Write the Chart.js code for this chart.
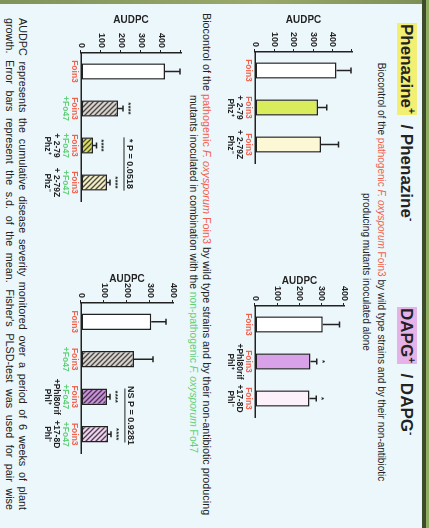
<!DOCTYPE html>
<html>
<head>
<meta charset="utf-8">
<script src="https://cdn.jsdelivr.net/npm/chart.js@4.4.0/dist/chart.umd.min.js"></script>
<style>
  html, body { margin: 0; padding: 0; width: 429px; height: 528px; overflow: hidden; background: #ecf7fb; }
  /* the slide is laid out landscape and turned a quarter clockwise */
  #slide { position: absolute; left: 0; top: 0; width: 528px; height: 429px; overflow: hidden;
           transform-origin: 0 0; transform: translate(429px, 0) rotate(90deg);
           background: #ecf7fb; font-family: "Liberation Sans", Arial, sans-serif; color: #222; }
  #edgeL { position: absolute; left: 0; top: 0; width: 4px; height: 429px; background: linear-gradient(#7d8f55, #9aa86a 40%, #7f935a); }
  #edgeT { position: absolute; left: 0; top: 0; width: 528px; height: 7px; background: linear-gradient(#8fae62 0, #8fae62 3px, #3f4c2c 3px, #3f4c2c 7px); }
  .title { position: absolute; font-size: 17px; font-weight: bold; line-height: 20px; white-space: nowrap; }
  .title sup { font-size: 10px; line-height: 0; }
  .hl { padding: 1px 1px 0 1px; }
  .txt { position: absolute; font-size: 10px; white-space: nowrap; }
  .r { color: #f2604c; }
  .g { color: #62d07a; }
  .just { text-align: justify; text-align-last: justify; }
  canvas { position: absolute; }
</style>
</head>
<body>
<div id="slide">
  <div id="edgeL"></div>
  <div id="edgeT"></div>

  <div class="title" style="left:23px; top:13px;"><span class="hl" style="background:#f3ef72;">Phenazine<sup>+</sup></span>&nbsp; / Phenazine<sup>-</sup></div>
  <div class="title" style="left:307px; top:13px;"><span class="hl" style="background:#e6b2ea;">DAPG<sup>+</sup></span>&nbsp; / DAPG<sup>-</sup></div>

  <div class="txt" style="left:8px; top:40px; width:528px; text-align:center; line-height:15px;">Biocontrol of the <span class="r">pathogenic <i>F. oxysporum</i> Foin3</span> by wild type strains and by their non-antibiotic<br>producing mutants inoculated alone</div>

  <div class="txt" style="left:13px; top:215px; line-height:14px; font-size:10.8px;">Biocontrol of the <span class="r">pathogenic <i>F. oxysporum</i> Foin3</span> by wild type strains and by their non-antibiotic producing</div>
  <div class="txt" style="left:10px; top:229px; width:528px; text-align:center; line-height:14px; font-size:10.3px;">mutants inoculated in combination with the <span class="g">non-pathogenic <i>F. oxysporum</i> Fo47</span></div>

  <div class="txt just" style="left:18px; top:400px; width:492px; line-height:13px; font-size:10.8px;">AUDPC represents the cumulative disease severity monitored over a period of 6 weeks of plant</div>
  <div class="txt just" style="left:18px; top:413px; width:492px; line-height:13px; font-size:10.8px;">growth. Error bars represent the s.d. of the mean. Fisher's PLSD-test was used for pair wise</div>

  <canvas id="phzSingle" width="170" height="172" style="left:6px; top:60px;"></canvas>
  <canvas id="dapgSingle" width="170" height="164" style="left:260px; top:68px;"></canvas>
  <canvas id="phzCombo" width="200" height="175" style="left:7px; top:231px;"></canvas>
  <canvas id="dapgCombo" width="205" height="167" style="left:257px; top:239px;"></canvas>
</div>

<script>
// ---- data ----
const phzSingleCats = [['Foin3'], ['Foin3', '+ 2-79', 'Phz⁺'], ['Foin3', '+ 2-79Z', 'Phz⁻']];
const phzSingleMeans = [420, 325, 340];
const phzSingleSd = [75, 45, 90];
const phzSingleSig = ['', '', ''];

const dapgSingleCats = [['Foin3'], ['Foin3', '+Phl80rif', 'Phl⁺'], ['Foin3', '+17-8D', 'Phl⁻']];
const dapgSingleMeans = [305, 250, 245];
const dapgSingleSd = [75, 28, 30];
const dapgSingleSig = ['', '*', '*'];

const phzComboCats = [['Foin3'], ['Foin3', '+Fo47'], ['Foin3', '+Fo47', '+ 2-79', 'Phz⁺'], ['Foin3', '+Fo47', '+ 2-79Z', 'Phz⁻']];
const phzComboMeans = [420, 185, 60, 130];
const phzComboSd = [75, 25, 18, 15];
const phzComboSig = ['', '****', '****', '****'];
const phzComboNote = '* P = 0.0518';

const dapgComboCats = [['Foin3'], ['Foin3', '+Fo47'], ['Foin3', '+Fo47', '+Phl80rif', 'Phl⁺'], ['Foin3', '+Fo47', '+17-8D', 'Phl⁻']];
const dapgComboMeans = [305, 230, 113, 117];
const dapgComboSd = [65, 83, 13, 13];
const dapgComboSig = ['', '', '****', '****'];
const dapgComboNote = 'NS P = 0.9281';

const audpcTicks = [0, 100, 200, 300, 400];

// diagonal hatch fill for the combination bars
function hatch(bg, fg) {
  const c = document.createElement('canvas');
  c.width = 5; c.height = 5;
  const x = c.getContext('2d');
  x.fillStyle = bg;
  x.fillRect(0, 0, 5, 5);
  x.strokeStyle = fg;
  x.lineWidth = 1.3;
  x.beginPath();
  x.moveTo(-1, -1); x.lineTo(6, 6);
  x.moveTo(-1, 4); x.lineTo(1, 6);
  x.moveTo(4, -1); x.lineTo(6, 1);
  x.stroke();
  return x.createPattern(c, 'repeat');
}

// error bars, stars, coloured category labels and the P note
const barExtras = {
  id: 'barExtras',
  afterDraw(chart, args, opts) {
    const ctx = chart.ctx;
    const ys = chart.scales.y;
    const xs = chart.scales.x;
    const bars = chart.getDatasetMeta(0).data;
    ctx.save();
    ctx.strokeStyle = '#222';
    ctx.fillStyle = '#222';
    ctx.lineWidth = 1.5;
    const tops = [];
    bars.forEach((bar, i) => {
      const top = ys.getPixelForValue(opts.means[i] + opts.sd[i]);
      tops.push(top);
      ctx.beginPath();
      ctx.moveTo(bar.x, bar.y);
      ctx.lineTo(bar.x, top);
      ctx.moveTo(bar.x - 3, top);
      ctx.lineTo(bar.x + 3, top);
      ctx.stroke();
      if (opts.sig[i]) {
        ctx.font = 'bold 8px "Liberation Sans", Arial';
        ctx.textAlign = 'center';
        ctx.textBaseline = 'bottom';
        ctx.fillText(opts.sig[i], bar.x, top - 1);
      }
    });

    // category labels, one colour per line
    ctx.font = 'bold 8.5px "Liberation Sans", Arial';
    ctx.textAlign = 'center';
    ctx.textBaseline = 'top';
    opts.cats.forEach((lines, i) => {
      const x = xs.getPixelForValue(i);
      lines.forEach((t, k) => {
        ctx.fillStyle = k === 0 ? '#f2604c' : (t.indexOf('Fo47') >= 0 ? '#62d07a' : '#222');
        ctx.fillText(t, x, chart.chartArea.bottom + 2 + k * 9);
      });
    });

    if (opts.note) {
      const a = bars[2], b = bars[3];
      const lineY = Math.min(tops[2], tops[3]) - 14;
      ctx.strokeStyle = '#222';
      ctx.lineWidth = 1;
      ctx.beginPath();
      ctx.moveTo(a.x - a.width / 2, lineY);
      ctx.lineTo(b.x + b.width / 2, lineY);
      ctx.stroke();
      ctx.fillStyle = '#222';
      ctx.font = 'bold 9px "Liberation Sans", Arial';
      ctx.textBaseline = 'bottom';
      ctx.fillText(opts.note, (a.x + b.x) / 2, lineY - 1);
    }
    ctx.restore();
  }
};

function makeChart(id, cats, means, sd, sig, note, fills, yMax, pad, titlePad) {
  return new Chart(document.getElementById(id), {
    type: 'bar',
    data: {
      labels: cats.map(c => c.join(' ')),
      datasets: [{
        data: means,
        backgroundColor: fills,
        borderColor: '#222',
        borderWidth: 1.5,
        borderSkipped: false,
        barPercentage: 0.44,
        categoryPercentage: 1
      }]
    },
    options: {
      responsive: false,
      animation: false,
      devicePixelRatio: 1,
      layout: { padding: pad },
      plugins: {
        legend: { display: false },
        tooltip: { enabled: false },
        barExtras: { cats: cats, means: means, sd: sd, sig: sig, note: note }
      },
      scales: {
        x: {
          ticks: { display: false },
          grid: { display: true, drawOnChartArea: false, drawTicks: false, color: '#222' },
          border: { color: '#222', width: 1.5 },
          afterFit: s => { s.height = 58; }
        },
        y: {
          min: 0,
          max: yMax,
          ticks: {
            stepSize: 50,
            padding: 2,
            color: '#222',
            font: { size: 9, weight: 'bold', family: '"Liberation Sans", Arial' },
            callback: v => audpcTicks.includes(v) ? String(v) : ''
          },
          grid: { drawOnChartArea: false, tickLength: 3, color: '#222', lineWidth: 1 },
          border: { color: '#222', width: 1.5 },
          title: {
            display: true,
            text: 'AUDPC',
            color: '#222',
            padding: { top: titlePad, bottom: 0 },
            font: { size: 10, weight: 'bold', family: '"Liberation Sans", Arial' }
          },
          afterFit: s => { s.width = 46; }
        }
      }
    },
    plugins: [barExtras]
  });
}

const grayHatch = hatch('#d6d2cc', '#4c4444');

makeChart('phzSingle', phzSingleCats, phzSingleMeans, phzSingleSd, phzSingleSig, null,
  ['#ffffff', '#d9ec5c', '#fcf8d6'], 500, { top: 17, right: 13 }, 8);

makeChart('dapgSingle', dapgSingleCats, dapgSingleMeans, dapgSingleSd, dapgSingleSig, null,
  ['#ffffff', '#d9a2e8', '#fcf0fb'], 400, { top: 17, right: 13 }, 15);

makeChart('phzCombo', phzComboCats, phzComboMeans, phzComboSd, phzComboSig, phzComboNote,
  ['#ffffff', grayHatch, hatch('#d8de62', '#4c4a30'), hatch('#f3edc4', '#4c4a40')], 500, { top: 17, right: 6 }, 7);

makeChart('dapgCombo', dapgComboCats, dapgComboMeans, dapgComboSd, dapgComboSig, dapgComboNote,
  ['#ffffff', grayHatch, hatch('#c892d8', '#4a3450'), hatch('#f1d2ee', '#4c4050')], 400, { top: 17, right: 9 }, 16);
</script>
</body>
</html>
